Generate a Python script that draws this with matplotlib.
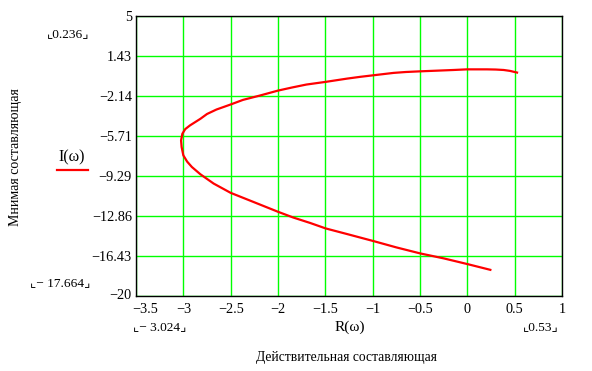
import matplotlib
matplotlib.use("Agg")
import matplotlib.pyplot as plt
from matplotlib.transforms import ScaledTranslation

# Re / Im of the frequency response (upper branch -> lower)
re_w = [0.525, 0.45, 0.384, 0.30, 0.208, 0.10, -0.004, -0.145, -0.32, -0.497,
        -0.65, -0.779, -0.99, -1.13, -1.27, -1.495, -1.70, -1.85, -2.0, -2.19,
        -2.37, -2.50, -2.65, -2.75, -2.82, -2.93, -2.98, -3.01, -3.024, -3.018,
        -3.0, -2.96, -2.91, -2.82, -2.68, -2.50, -2.26, -2.0, -1.84, -1.66,
        -1.495, -1.27, -0.99, -0.75, -0.497, -0.25, -0.004, 0.243]
im_w = [-0.05, 0.10, 0.18, 0.22, 0.236, 0.236, 0.236, 0.18, 0.12, 0.06,
        0.0, -0.08, -0.29, -0.43, -0.59, -0.88, -1.12, -1.38, -1.66, -2.10,
        -2.49, -2.90, -3.35, -3.75, -4.18, -4.77, -5.10, -5.51, -6.11, -6.7,
        -7.44, -8.0, -8.48, -9.13, -9.96, -10.79, -11.6, -12.48, -12.99, -13.48,
        -13.97, -14.47, -15.1, -15.66, -16.2, -16.64, -17.14, -17.664]

x_ticks = [-3.5, -3, -2.5, -2, -1.5, -1, -0.5, 0, 0.5, 1]
x_labels = ["−3.5", "−3", "−2.5", "−2", "−1.5", "−1", "−0.5", "0", "0.5", "1"]
y_ticks = [5, 1.43, -2.14, -5.71, -9.29, -12.86, -16.43, -20]
y_labels = ["5", "1.43", "−2.14", "−5.71", "−9.29", "−12.86", "−16.43", "−20"]

FONT = ["Liberation Serif", "DejaVu Serif"]
plt.rcParams["font.family"] = FONT

fig = plt.figure(figsize=(5.92, 3.71), dpi=100)
ax = fig.add_axes([136 / 592, 1 - 296 / 371, 426 / 592, 280 / 371])

ax.plot(re_w, im_w, color="#ff0000", lw=1.6, zorder=3)
ax.set_xlim(-3.5, 1)
ax.set_ylim(-20, 5)
ax.set_xticks(x_ticks, x_labels)
ax.set_yticks(y_ticks, y_labels)
ax.grid(True, color="#00ff00", lw=1.0)
ax.tick_params(length=0, labelsize=10.3)
ax.tick_params(axis="x", pad=5)
ax.tick_params(axis="y", pad=3)
for s in ax.spines.values():
    s.set_linewidth(1.0)

# first x label sits to the right of the corner, last y label a bit higher
first = ax.get_xticklabels()[0]
first.set_horizontalalignment("left")
first.set_transform(first.get_transform() + ScaledTranslation(-4 / 100, 0, fig.dpi_scale_trans))
low = ax.get_yticklabels()[-1]
low.set_transform(low.get_transform() + ScaledTranslation(0, 2 / 100, fig.dpi_scale_trans))

# markers / legend text in the Mathcad style
br = ["Liberation Serif", "DejaVu Sans"]
fig.text(68 / 592, 1 - 34 / 371, "⌞0.236⌟", ha="center", va="center",
         fontsize=9.6, family=br)
fig.text(60 / 592, 1 - 283 / 371, "⌞− 17.664⌟", ha="center", va="center",
         fontsize=9.6, family=br)
fig.text(160 / 592, 1 - 327 / 371, "⌞− 3.024⌟", ha="center", va="center",
         fontsize=9.6, family=br)
fig.text(541 / 592, 1 - 327 / 371, "⌞0.53⌟", ha="center", va="center",
         fontsize=9.6, family=br)
fig.text(350 / 592, 1 - 327 / 371, "R(ω)", ha="center", va="center",
         fontsize=11)
fig.text(72 / 592, 1 - 157 / 371, "I(ω)", ha="center", va="center",
         fontsize=11.5)
fig.add_artist(plt.Line2D([57 / 592, 88 / 592], [1 - 170 / 371, 1 - 170 / 371],
                          color="#ff0000", lw=1.6))
fig.text(16 / 592, 1 - 157 / 371, "Мнимая составляющая", rotation=90,
         ha="center", va="center", fontsize=10)
fig.text(347 / 592, 1 - 358 / 371, "Действительная составляющая",
         ha="center", va="center", fontsize=9.8)

fig.savefig("out.png", dpi=100)
